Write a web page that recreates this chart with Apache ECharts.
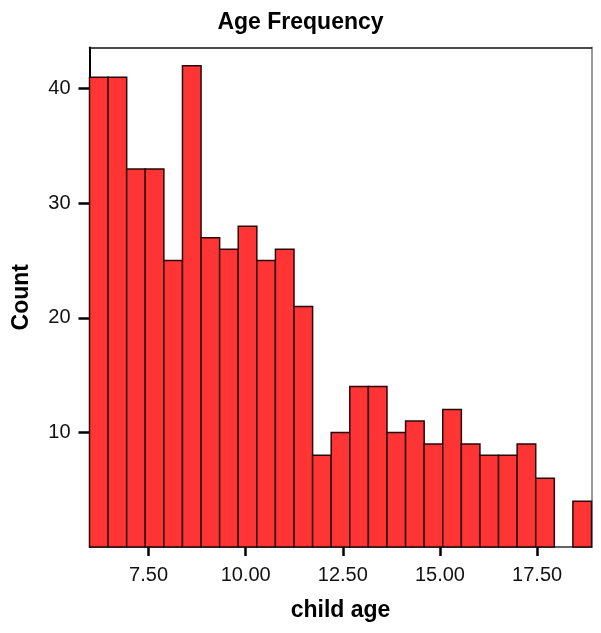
<!DOCTYPE html>
<html>
<head>
<meta charset="utf-8">
<script src="https://cdn.jsdelivr.net/npm/echarts@6/dist/echarts.min.js"></script>
<style>
html,body{margin:0;padding:0;background:#fff;}
#chart{width:601px;height:633px;}
</style>
</head>
<body>
<div id="chart"></div>
<script>
// Data
var counts = [41, 41, 33, 33, 25, 42, 27, 26, 28, 25, 26, 21, 8, 10, 14, 14, 10, 11, 9, 12, 9, 8, 8, 9, 6, 0, 4];
var xMin = 5.98;
var xMax = 18.9;
var xTicks = [7.5, 10, 12.5, 15, 17.5];
var yTicks = [10, 20, 30, 40];
var yMax = 43.6;

var binWidth = (xMax - xMin) / counts.length;
var binData = counts.map(function (c, i) {
  return [xMin + i * binWidth, xMin + (i + 1) * binWidth, c];
});

var chart = echarts.init(document.getElementById('chart'));
var font = 'Liberation Sans, Arial, Helvetica, sans-serif';
chart.setOption({
  animation: false,
  backgroundColor: '#fff',
  title: {
    text: 'Age Frequency',
    left: 'center',
    top: 11,
    padding: 0,
    textStyle: { fontFamily: font, fontWeight: 'bold', fontSize: 23, color: '#000' }
  },
  grid: { left: 89.5, right: 9.5, top: 47.5, bottom: 86, containLabel: false, outerBoundsMode: 'none' },
  xAxis: [{
    type: 'value',
    min: xMin,
    max: xMax,
    name: 'child age',
    nameLocation: 'middle',
    nameGap: 52,
    nameMoveOverlap: false,
    nameTextStyle: { fontFamily: font, fontWeight: 'bold', fontSize: 23, color: '#000' },
    splitLine: { show: false },
    axisLine: { show: true, onZero: false, lineStyle: { color: '#333', width: 1.5 } },
    axisTick: { show: true, customValues: xTicks, length: 9, lineStyle: { color: '#000', width: 2.5 } },
    axisLabel: {
      customValues: xTicks, margin: 18,
      fontFamily: font, fontSize: 20, color: '#111',
      formatter: function (v) { return v.toFixed(2); }
    }
  }, {
    type: 'value', position: 'top', min: xMin, max: xMax,
    axisLine: { show: true, onZero: false, lineStyle: { color: '#111', width: 1.5 } },
    axisTick: { show: false }, axisLabel: { show: false }, splitLine: { show: false }
  }],
  yAxis: [{
    type: 'value',
    min: 0,
    max: yMax,
    name: 'Count',
    nameLocation: 'middle',
    nameGap: 56,
    nameMoveOverlap: false,
    nameTextStyle: { fontFamily: font, fontWeight: 'bold', fontSize: 23, color: '#000' },
    splitLine: { show: false },
    axisLine: { show: true, onZero: false, lineStyle: { color: '#000', width: 2 } },
    axisTick: { show: true, customValues: yTicks, length: 11, lineStyle: { color: '#000', width: 2.5 } },
    axisLabel: { customValues: yTicks, margin: 19, fontFamily: font, fontSize: 20, color: '#111' }
  }, {
    type: 'value', position: 'right', min: 0, max: yMax,
    axisLine: { show: true, onZero: false, lineStyle: { color: '#999', width: 2 } },
    axisTick: { show: false }, axisLabel: { show: false }, splitLine: { show: false }
  }],
  series: [{
    type: 'custom',
    data: binData,
    encode: { x: [0, 1], y: 2 },
    renderItem: function (params, api) {
      var c = api.value(2);
      if (!c) return null;
      var p0 = api.coord([api.value(0), 0]);
      var p1 = api.coord([api.value(1), c]);
      return {
        type: 'rect',
        shape: { x: p0[0], y: p1[1], width: p1[0] - p0[0], height: p0[1] - p1[1] },
        style: { fill: '#ff3535', stroke: '#2a0808', lineWidth: 1.5 }
      };
    }
  }]
});
</script>
</body>
</html>
